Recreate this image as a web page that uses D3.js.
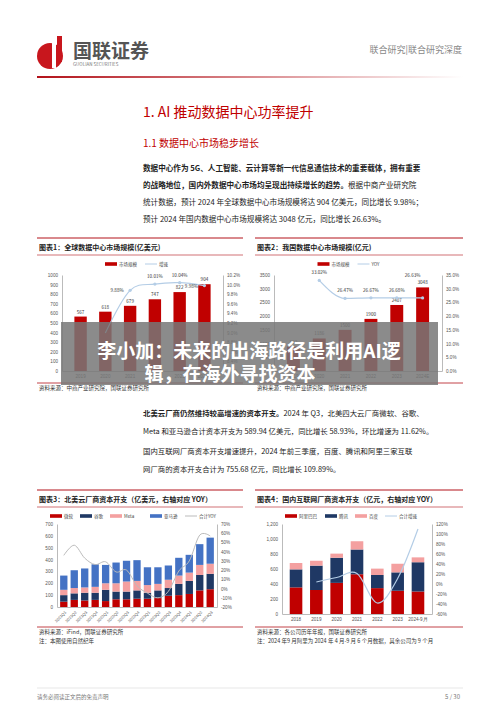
<!DOCTYPE html>
<html><head><meta charset="utf-8">
<script src="https://cdn.jsdelivr.net/npm/d3@7/dist/d3.min.js"></script>
<style>
body{margin:0;background:#fff}
svg{font-family:"Noto Sans CJK SC","Noto Sans",sans-serif}
</style></head><body>
<svg id="page" width="500" height="707"></svg>
<script>
// chart 1: global data center market
const years1 = ["2019","2020","2021","2022","2023","2024E"];
const global = [567, 618, 679, 747, 822, 904];
const globalYoy = [null, 8.99, 9.88, 10.01, 10.04, 9.98];
// chart 2: China data center market
const china = [892, 1186, 1500, 1900, 2407, 3048];
const chinaYoy = [null, 33.02, 26.47, 26.67, 26.68, 26.63];
// chart 3: North American cloud capex
const quarters = ["2021Q1","2021Q2","2021Q3","2021Q4","2022Q1","2022Q2","2022Q3","2022Q4","2023Q1","2023Q2","2023Q3","2023Q4","2024Q1","2024Q2","2024Q3"];
const msft = [45,60,55,60,50,65,65,70,70,75,95,100,110,140,150];
const goog = [55,55,65,60,95,65,65,70,50,65,65,95,110,130,130];
const meta = [45,45,45,50,55,70,85,80,65,55,70,70,70,85,85];
const amzn = [120,150,160,190,155,175,175,175,150,140,120,150,150,175,220];
const naYoy = [36,47,33,26,29,18,20,3,-5,-10,-3,19,30,58,57];
// chart 4: Chinese internet capex
const years4 = ["2018","2019","2020","2021","2022","2023","2024-9月"];
const ali = [355,320,415,530,345,310,300];
const tencent = [240,325,335,330,175,245,390];
const baidu = [85,65,55,110,85,115,65];
const cnYoy = [null,4,13,21,-38,11,110];

const RED="#c00000", NAVY="#1f3864", PINK="#f4a0a0", BLUE="#4472c4", LBLUE="#b4cde6";
const svg = d3.select("#page");

function txt(x,y,s,size,fill,opts={}){
  return svg.append("text").attr("x",x).attr("y",y).text(s)
    .attr("font-size",size).attr("fill",fill)
    .attr("font-weight",opts.w||400).attr("text-anchor",opts.a||"start");
}

// header
const grad = svg.append("defs").append("linearGradient").attr("id","hg");
grad.append("stop").attr("offset","0").attr("stop-color","#b3121a");
grad.append("stop").attr("offset","1").attr("stop-color","#fff");
svg.append("circle").attr("cx",50).attr("cy",56).attr("r",13).attr("fill","#c8161d");
svg.append("rect").attr("x",52).attr("y",38).attr("width",4).attr("height",30).attr("fill","#fff");
svg.append("rect").attr("x",57).attr("y",36).attr("width",5).attr("height",26).attr("fill","#c8161d");
txt(73,58,"国联证券",19,"#555",{w:700});
txt(73,66,"GUOLIAN SECURITIES",4.5,"#777");
txt(462,53,"联合研究|联合研究深度",9,"#888",{a:"end"});
svg.append("rect").attr("x",37).attr("y",76).attr("width",426).attr("height",2).attr("fill","url(#hg)");

txt(143,117,"1. AI 推动数据中心功率提升",14,"#c00000");
txt(143,147,"1.1 数据中心市场稳步增长",10,"#c00000");
const p1 = [
 [["数据中心作为 5G、人工智能、云计算等新一代信息通信技术的重要载体，拥有重要",700]],
 [["的战略地位，国内外数据中心市场均呈现出持续增长的趋势。",700],["根据中商产业研究院",400]],
 [["统计数据，预计 2024 年全球数据中心市场规模将达 904 亿美元，同比增长 9.98%；",400]],
 [["预计 2024 年国内数据中心市场规模将达 3048 亿元，同比增长 26.63%。",400]]
];
[171,188,205,222].forEach((y,i)=>{
  const t=txt(143,y,"",7.6,"#222");
  p1[i].forEach(([s,w])=>t.append("tspan").text(s).attr("font-weight",w));
});
const p2 = [
 [["北美云厂商仍然维持较高增速的资本开支。",700],["2024 年 Q3，北美四大云厂商微软、谷歌、",400]],
 [["Meta 和亚马逊合计资本开支为 589.94 亿美元，同比增长 58.93%，环比增速为 11.62%。",400]],
 [["国内互联网厂商资本开支增速提升，2024 年前三季度，百度、腾讯和阿里三家互联",400]],
 [["网厂商的资本开支合计为 755.68 亿元，同比增长 109.89%。",400]]
];
[416,434,454,472].forEach((y,i)=>{
  const t=txt(143,y,"",7.4,"#222");
  p2[i].forEach(([s,w])=>t.append("tspan").text(s).attr("font-weight",w));
});

function frame(x0,x1,top,bottom,title,sources){
  svg.append("line").attr("x1",x0).attr("x2",x1).attr("y1",top).attr("y2",top).attr("stroke","#b3121a").attr("stroke-width",1);
  txt(x0+2,top+12,title,7,"#222",{w:700});
  svg.append("line").attr("x1",x0).attr("x2",x1).attr("y1",top+17).attr("y2",top+17).attr("stroke","#b3121a").attr("stroke-width",0.6);
  svg.append("line").attr("x1",x0).attr("x2",x1).attr("y1",bottom).attr("y2",bottom).attr("stroke","#b3121a").attr("stroke-width",0.8);
  sources.forEach((s,i)=>txt(x0+2,bottom+7+i*8.5,s,5.5,"#333"));
}

function legend(items,cx,y){
  const g=svg.append("g").attr("font-size",4.5);
  const w=items.map(d=>d.label.length*5+20);
  let x=cx-d3.sum(w)/2;
  items.forEach((d,i)=>{
    if(d.line) g.append("line").attr("x1",x).attr("x2",x+12).attr("y1",y).attr("y2",y).attr("stroke",d.color).attr("stroke-width",1);
    else g.append("rect").attr("x",x).attr("y",y-1.8).attr("width",12).attr("height",3.6).attr("fill",d.color);
    g.append("text").attr("x",x+14).attr("y",y+1.6).text(d.label).attr("fill","#444");
    x+=w[i];
  });
}

function axes(x,yL,yR,l,r,b,opts){
  const gl=svg.append("g").attr("transform",`translate(${l},0)`)
    .call(d3.axisLeft(yL).tickValues(opts.ltv).tickFormat(opts.lf).tickSize(0).tickPadding(4));
  const gr=svg.append("g").attr("transform",`translate(${r},0)`)
    .call(d3.axisRight(yR).tickValues(opts.rtv).tickFormat(opts.rf).tickSize(0).tickPadding(4));
  const gb=svg.append("g").attr("transform",`translate(0,${b})`)
    .call(d3.axisBottom(x).tickSize(0).tickPadding(4));
  [gl,gr,gb].forEach(g=>{g.selectAll("text").attr("font-size",4.6).attr("fill","#555");g.select(".domain").attr("stroke","#bbb");});
  return gb;
}

// ---------- chart 1 ----------
frame(37,243,238,383,"图表1：全球数据中心市场规模(亿美元)",["资料来源：中商产业研究院，国联证券研究所"]);
{
  const l=62,r=223,t=275,b=371;
  const x=d3.scaleBand().domain(years1).range([l,r]).padding(0.5);
  const y=d3.scaleLinear().domain([0,1000]).range([b,t]);
  const yr=d3.scaleLinear().domain([8.2,10.2]).range([b,t]);
  axes(x,y,yr,l,r,b,{ltv:d3.range(0,1001,100),rtv:d3.range(8.2,10.21,0.2),lf:d3.format("d"),rf:d=>d.toFixed(1)+"%"});
  svg.append("g").selectAll("rect").data(global).join("rect")
    .attr("x",(d,i)=>x(years1[i])).attr("width",x.bandwidth())
    .attr("y",d=>y(d)).attr("height",d=>b-y(d)).attr("fill",RED);
  svg.append("g").selectAll("text").data(global).join("text")
    .attr("x",(d,i)=>x(years1[i])+x.bandwidth()/2).attr("y",d=>y(d)-3)
    .attr("text-anchor","middle").attr("font-size",4.6).attr("fill","#333").text(d=>d);
  const pts=globalYoy.map((v,i)=>[x(years1[i])+x.bandwidth()/2,v]).filter(d=>d[1]!=null);
  svg.append("path").datum(pts).attr("fill","none").attr("stroke",LBLUE).attr("stroke-width",1.2)
    .attr("d",d3.line().x(d=>d[0]).y(d=>yr(d[1])).curve(d3.curveCardinal));
  svg.append("g").selectAll("circle").data(pts.slice(1)).join("circle")
    .attr("cx",d=>d[0]).attr("cy",d=>yr(d[1])).attr("r",1.6).attr("fill",LBLUE);
  svg.append("g").selectAll("text").data(pts.slice(1)).join("text")
    .attr("x",d=>d[0]-(d[1]<10?13:0)).attr("y",d=>yr(d[1])-(d[1]<10?-2:6))
    .attr("text-anchor","middle").attr("font-size",4.6).attr("fill","#333").text(d=>d[1].toFixed(2)+"%");
  legend([{label:"市场规模",color:RED},{label:"增速",color:LBLUE,line:true}],140,264);
}

// ---------- chart 2 ----------
frame(255,463,238,383,"图表2：我国数据中心市场规模(亿元)",["资料来源：中商产业研究院，国联证券研究所"]);
{
  const l=274,r=442,t=275,b=371;
  const x=d3.scaleBand().domain(years1).range([l,r]).padding(0.5);
  const y=d3.scaleLinear().domain([0,3500]).range([b,t]);
  const yr=d3.scaleLinear().domain([0,35]).range([b,t]);
  axes(x,y,yr,l,r,b,{ltv:d3.range(0,3501,500),rtv:d3.range(0,36,5),lf:d3.format("d"),rf:d=>d.toFixed(1)+"%"});
  svg.append("g").selectAll("rect").data(china).join("rect")
    .attr("x",(d,i)=>x(years1[i])).attr("width",x.bandwidth())
    .attr("y",d=>y(d)).attr("height",d=>b-y(d)).attr("fill",RED);
  svg.append("g").selectAll("text").data(china).join("text")
    .attr("x",(d,i)=>x(years1[i])+x.bandwidth()/2).attr("y",d=>y(d)-3)
    .attr("text-anchor","middle").attr("font-size",4.6).attr("fill","#333").text(d=>d);
  const pts=chinaYoy.map((v,i)=>[x(years1[i])+x.bandwidth()/2,v]).filter(d=>d[1]!=null);
  svg.append("path").datum(pts).attr("fill","none").attr("stroke",LBLUE).attr("stroke-width",1.2)
    .attr("d",d3.line().x(d=>d[0]).y(d=>yr(d[1])).curve(d3.curveMonotoneX));
  svg.append("g").selectAll("circle").data(pts).join("circle")
    .attr("cx",d=>d[0]).attr("cy",d=>yr(d[1])).attr("r",1.6).attr("fill",LBLUE);
  svg.append("g").selectAll("text").data(pts).join("text")
    .attr("x",(d,i)=>d[0]-(i==4?10:0)).attr("y",(d,i)=>i==4?y(china[5])-10:yr(d[1])-6)
    .attr("text-anchor","middle").attr("font-size",4.6).attr("fill","#333").text(d=>d[1].toFixed(2)+"%");
  legend([{label:"市场规模",color:RED},{label:"YOY",color:LBLUE,line:true}],355,264);
}

// ---------- chart 3 ----------
frame(37,243,490,627,"图表3：北美云厂商资本开支（亿美元，右轴对应 YOY）",["资料来源：iFind，国联证券研究所","注：本图使用自然纪年"]);
{
  const l=57,r=217,t=524,b=607;
  const x=d3.scaleBand().domain(quarters).range([l,r]).padding(0.3);
  const y=d3.scaleLinear().domain([0,700]).range([b,t]);
  const yr=d3.scaleLinear().domain([-20,70]).range([b,t]);
  const gb=axes(x,y,yr,l,r,b,{ltv:d3.range(0,701,100),rtv:d3.range(-20,71,10),lf:d3.format("d"),rf:d=>d+"%"});
  gb.selectAll("text").attr("transform","rotate(-45)").attr("text-anchor","end").attr("dx","-2").attr("dy","2").attr("font-size",4);
  const rows=quarters.map((q,i)=>({q,msft:msft[i],goog:goog[i],meta:meta[i],amzn:amzn[i]}));
  const keys=["msft","goog","meta","amzn"], cols=[RED,NAVY,PINK,BLUE];
  const st=d3.stack().keys(keys)(rows);
  svg.append("g").selectAll("g").data(st).join("g").attr("fill",(d,i)=>cols[i])
    .selectAll("rect").data(d=>d).join("rect")
    .attr("x",d=>x(d.data.q)).attr("width",x.bandwidth())
    .attr("y",d=>y(d[1])).attr("height",d=>y(d[0])-y(d[1]));
  svg.append("path").datum(naYoy).attr("fill","none").attr("stroke","#bbb").attr("stroke-width",1)
    .attr("d",d3.line().x((d,i)=>x(quarters[i])+x.bandwidth()/2).y(d=>yr(d)).curve(d3.curveCardinal));
  legend([{label:"微软",color:RED},{label:"谷歌",color:NAVY},{label:"Meta",color:PINK},{label:"亚马逊",color:BLUE},{label:"合计YOY",color:"#bbb",line:true}],140,516);
}

// ---------- chart 4 ----------
frame(255,463,490,627,"图表4：国内互联网厂商资本开支（亿元，右轴对应 YOY）",["资料来源：各公司历年年报，国联证券研究所","注：2024 年9 月阿里为 2024 年 4 月-9 月 6 个月数据，其余公司为 9 个月"]);
{
  const l=282,r=432,t=524,b=614;
  const x=d3.scaleBand().domain(years4).range([l,r]).padding(0.38);
  const y=d3.scaleLinear().domain([0,1200]).range([b,t]);
  const yr=d3.scaleLinear().domain([-60,120]).range([b,t]);
  axes(x,y,yr,l,r,b,{ltv:d3.range(0,1201,200),rtv:d3.range(-60,121,20),lf:d3.format(","),rf:d=>d+"%"});
  const rows=years4.map((q,i)=>({q,ali:ali[i],tencent:tencent[i],baidu:baidu[i]}));
  const st=d3.stack().keys(["ali","tencent","baidu"])(rows), cols=[RED,NAVY,PINK];
  svg.append("g").selectAll("g").data(st).join("g").attr("fill",(d,i)=>cols[i])
    .selectAll("rect").data(d=>d).join("rect")
    .attr("x",d=>x(d.data.q)).attr("width",x.bandwidth())
    .attr("y",d=>y(d[1])).attr("height",d=>y(d[0])-y(d[1]));
  const pts=cnYoy.map((v,i)=>[x(years4[i])+x.bandwidth()/2,v]).filter(d=>d[1]!=null);
  svg.append("path").datum(pts).attr("fill","none").attr("stroke",LBLUE).attr("stroke-width",1.2)
    .attr("d",d3.line().x(d=>d[0]).y(d=>yr(d[1])).curve(d3.curveCardinal));
  legend([{label:"阿里巴巴",color:RED},{label:"腾讯",color:NAVY},{label:"百度",color:PINK},{label:"合计增速",color:LBLUE,line:true}],355,516);
}

// footer
svg.append("line").attr("x1",37).attr("x2",463).attr("y1",688).attr("y2",688).attr("stroke","#ccc").attr("stroke-width",0.5);
txt(37,699,"请务必阅读正文后的免责声明",5.5,"#777");
txt(460,699,"5 / 30",6,"#777",{a:"end"});

// overlay headline
svg.append("rect").attr("x",61).attr("y",322).attr("width",377).attr("height",63).attr("fill","#777").attr("opacity",0.85);
txt(249,358,"李小加：未来的出海路径是利用AI逻",19,"#fff",{w:700,a:"middle"});
txt(230,381,"辑，在海外寻找资本",19,"#fff",{w:700,a:"middle"});
</script></body></html>
